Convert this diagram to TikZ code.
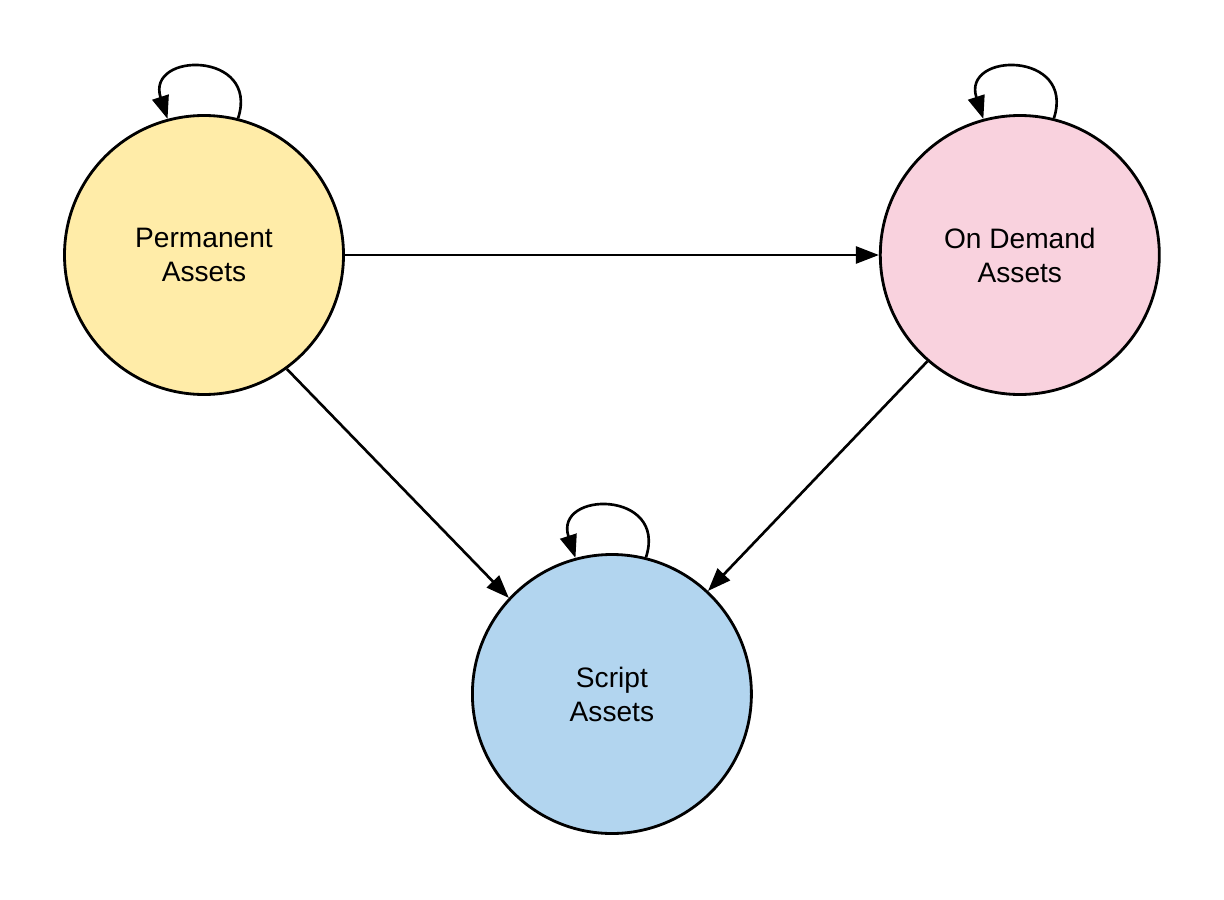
\documentclass[tikz,border=0pt]{standalone}
\usepackage{fontspec}
\setmainfont{Liberation Sans}
\usetikzlibrary{
  arrows.meta,
  automata,
  calc,
  positioning
}
\definecolor{permyellow}{HTML}{FFECA8}
\definecolor{demandpink}{HTML}{F9D2DE}
\definecolor{scriptblue}{HTML}{B2D5EF}
\tikzset{
  >={Triangle[length=0.46cm, width=0.34cm]},
  node distance = 10.68cm,
  every state/.style = {line width=1.6pt, minimum size=5.58cm, align=center,
    font=\fontsize{16}{19.3}\selectfont},
  every edge/.style = {draw, ->, line width=1.5pt},
  selfloop/.style = {out=72, in=108, distance=1.42cm},
}
\begin{document}
\begin{tikzpicture}
  \useasboundingbox (-4.08,-12.88) rectangle (20.40,5.10);
  \node[state, fill=permyellow] (perm) {Permanent\\Assets};
  \node[state, fill=demandpink, right=of perm] (demand) {On Demand\\Assets};
  \node[state, fill=scriptblue] (script) at ($(perm)!0.5!(demand)+(0,-8.78)$) {Script\\Assets};
  \path
      (perm.east) edge (demand.west)
      (perm.-54) edge (script.137)
      (demand.229) edge (script.47)
      (perm.76) edge[selfloop] (perm.105)
      (demand.76) edge[selfloop] (demand.105)
      (script.76) edge[selfloop] (script.105);
\end{tikzpicture}
\end{document}
